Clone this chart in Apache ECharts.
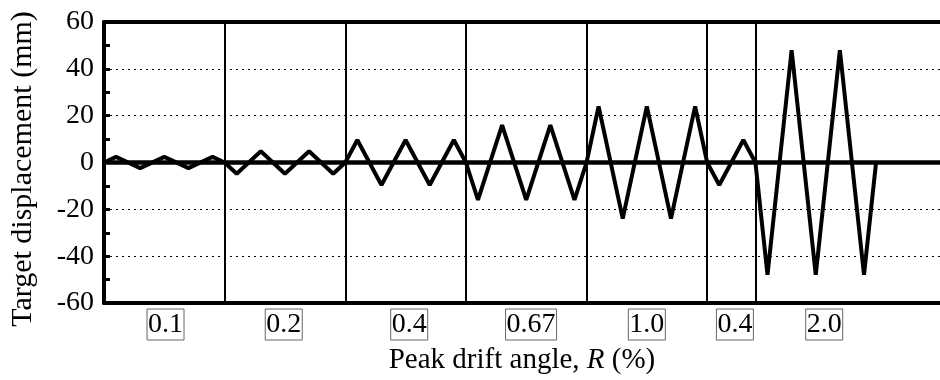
<!DOCTYPE html>
<html>
<head>
<meta charset="utf-8">
<script src="https://cdn.jsdelivr.net/npm/echarts@6/dist/echarts.min.js"></script>
<style>
  html, body { margin: 0; padding: 0; background: #fff; }
  #chart { width: 940px; height: 380px; }
</style>
</head>
<body>
<div id="chart"></div>
<script>
// loading history: step position vs target displacement (mm)
const stepX = [0, 1, 3, 5, 7, 9, 10,
  11, 13, 15, 17, 19, 20,
  21, 23, 25, 27, 29, 30,
  31, 33, 35, 37, 39, 40,
  41, 43, 45, 47, 49, 50,
  51, 53, 54,
  55, 57, 59, 61, 63, 64]
const targetDisp = [0, 2.4, -2.4, 2.4, -2.4, 2.4, 0,
  -4.8, 4.8, -4.8, 4.8, -4.8, 0,
  9.6, -9.6, 9.6, -9.6, 9.6, 0,
  -16, 16, -16, 16, -16, 0,
  24, -24, 24, -24, 24, 0,
  -9.6, 9.6, 0,
  -48, 48, -48, 48, -48, 0]

// stage boundaries and peak drift angle labels
const stageBounds = [10, 20, 30, 40, 50, 54]
const stageLabelPos = [5.1, 14.9, 25.3, 35.4, 45, 52.3, 59.7]
const stageLabels = ['0.1', '0.2', '0.4', '0.67', '1.0', '0.4', '2.0']

const yTicks = [-60, -40, -20, 0, 20, 40, 60]

const FONT = "'Times New Roman', 'Liberation Serif', serif"
const X_MAX = 69.3

const chart = echarts.init(document.getElementById('chart'))

chart.setOption({
  animation: false,
  grid: { left: 102.5, right: 0, top: 22, bottom: 77 },
  xAxis: [
    {
      type: 'value', min: 0, max: X_MAX, position: 'bottom',
      name: '{n|Peak drift angle, }{i|R}{n| (%)}',
      nameLocation: 'middle', nameGap: 39,
      nameTextStyle: {
        rich: {
          n: { fontFamily: FONT, fontSize: 29, color: '#000' },
          i: { fontFamily: FONT, fontSize: 29, color: '#000', fontStyle: 'italic' }
        }
      },
      axisLine: { onZero: false, lineStyle: { color: '#000', width: 4 } },
      axisTick: { show: false },
      splitLine: { show: false },
      axisLabel: {
        customValues: stageLabelPos,
        formatter: (v) => stageLabels[stageLabelPos.indexOf(v)],
        fontFamily: FONT, fontSize: 28, color: '#000',
        margin: 6, lineHeight: 30,
        borderColor: '#666', borderWidth: 1, padding: [1, 1, 0, 1]
      }
    },
    {
      type: 'value', min: 0, max: X_MAX, position: 'top',
      axisLine: { onZero: false, lineStyle: { color: '#000', width: 4 } },
      axisTick: { show: false }, axisLabel: { show: false }, splitLine: { show: false }
    }
  ],
  yAxis: {
    type: 'value', min: yTicks[0], max: yTicks[yTicks.length - 1], interval: 20,
    name: 'Target displacement (mm)',
    nameLocation: 'middle', nameGap: 66,
    // right padding nudges the rotated title a little downwards
    nameTextStyle: { fontFamily: FONT, fontSize: 30, color: '#000', padding: [0, 13, 0, 0] },
    axisLine: { onZero: false, lineStyle: { color: '#000', width: 4 } },
    axisTick: { inside: true, length: 6, lineStyle: { color: '#000', width: 3 } },
    minorTick: { show: true, splitNumber: 2, length: 6, lineStyle: { color: '#000', width: 3 } },
    axisLabel: { fontFamily: FONT, fontSize: 28, color: '#000', margin: 10 },
    splitLine: { lineStyle: { color: '#000', width: 1, type: [2, 4] } }
  },
  series: [{
    type: 'line',
    data: stepX.map((x, i) => [x, targetDisp[i]]),
    showSymbol: false,
    lineStyle: { color: '#000', width: 4 },
    z: 3,
    markLine: {
      silent: true, symbol: 'none', label: { show: false },
      data: [
        ...stageBounds.map(b => ({ xAxis: b, lineStyle: { color: '#000', width: 2, type: 'solid' } })),
        { yAxis: 0, lineStyle: { color: '#000', width: 4.5, type: 'solid' } }
      ]
    }
  }]
})
</script>
</body>
</html>
